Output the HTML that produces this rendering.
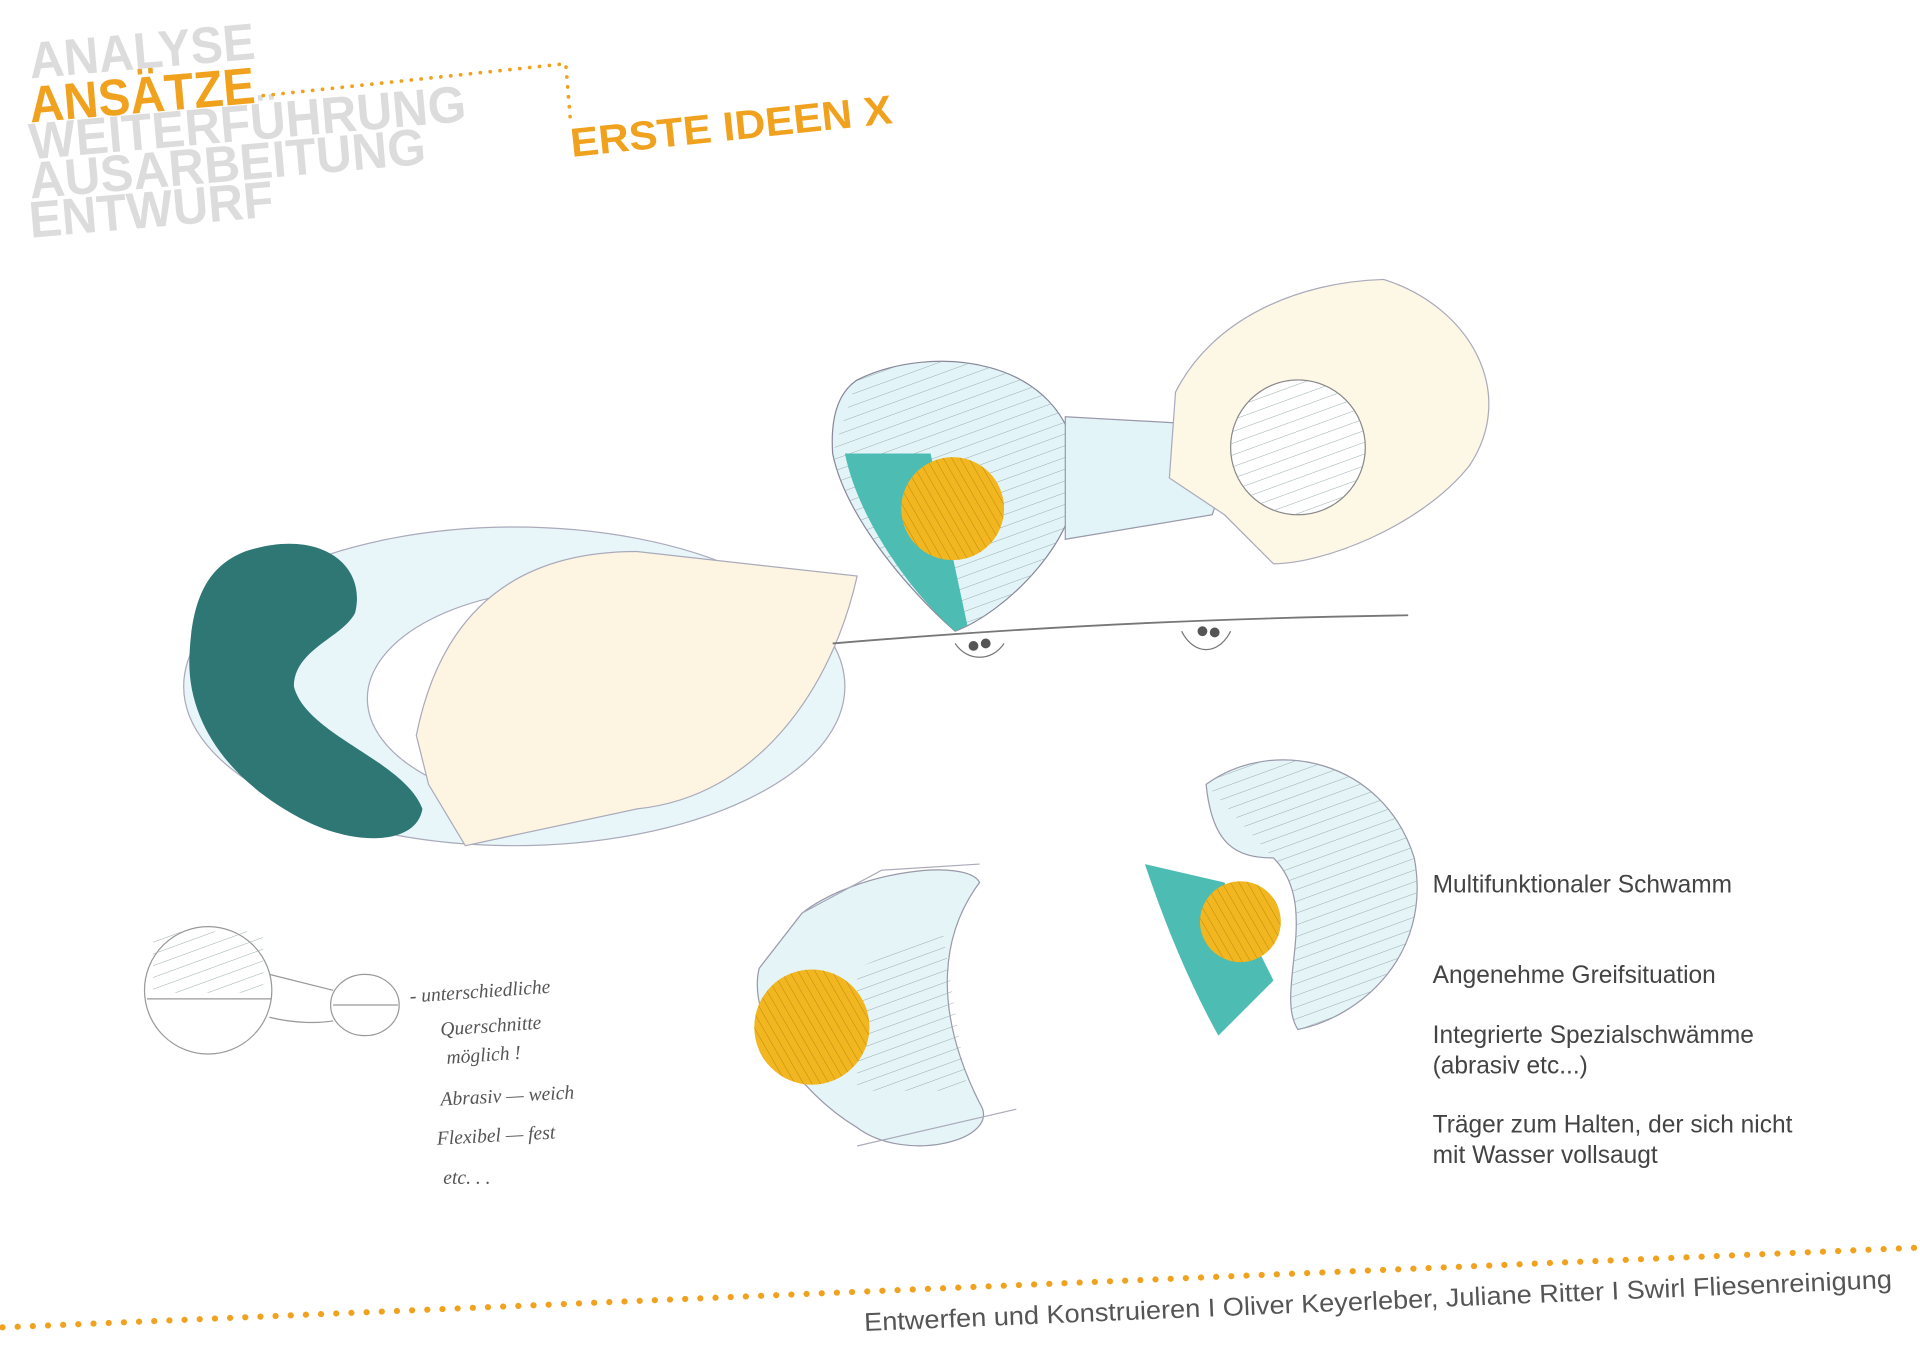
<!DOCTYPE html>
<html><head><meta charset="utf-8"><style>
html,body{margin:0;padding:0;background:#fff;}
svg{display:block;}
</style></head><body>
<svg width="1920" height="1358" viewBox="0 0 1568 1108" preserveAspectRatio="none" xmlns="http://www.w3.org/2000/svg">
<defs>
<pattern id="h" width="9" height="9" patternUnits="userSpaceOnUse" patternTransform="rotate(70)"><line x1="0" y1="0" x2="0" y2="9" stroke="#9aa" stroke-width="0.8"/></pattern>
<pattern id="hd" width="6" height="6" patternUnits="userSpaceOnUse" patternTransform="rotate(-30)"><line x1="0" y1="0" x2="0" y2="6" stroke="#b88a10" stroke-width="0.8"/></pattern>
</defs>
<!-- header -->
<g font-family="Liberation Sans, sans-serif" font-weight="bold" font-size="42" lengthAdjust="spacingAndGlyphs">
<text x="25" y="64" fill="#dcdcdc" textLength="185" lengthAdjust="spacingAndGlyphs" transform="rotate(-5 25 64)">ANALYSE</text>
<text x="25" y="194" fill="#dcdcdc" textLength="200" lengthAdjust="spacingAndGlyphs" transform="rotate(-5 25 194)">ENTWURF</text>
<text x="25" y="162" fill="#dcdcdc" textLength="325" lengthAdjust="spacingAndGlyphs" transform="rotate(-5 25 162)">AUSARBEITUNG</text>
<text x="25" y="130" fill="#dcdcdc" textLength="358" lengthAdjust="spacingAndGlyphs" transform="rotate(-5 25 130)">WEITERFÜHRUNG</text>
<text x="25" y="100" fill="#f0a21e" textLength="185" lengthAdjust="spacingAndGlyphs" transform="rotate(-5 25 100)">ANSÄTZE</text>
<text x="467" y="128" fill="#f0a21e" font-size="33" textLength="264" lengthAdjust="spacingAndGlyphs" transform="rotate(-6 467 128)">ERSTE IDEEN X</text>
</g>
<path d="M215 78 L462 52 L466 100" fill="none" stroke="#f0a21e" stroke-width="3" stroke-dasharray="0.1 8" stroke-linecap="round"/>
<!-- left sketch -->
<ellipse cx="420" cy="560" rx="270" ry="130" fill="#e8f6fa" stroke="#aab" stroke-width="1"/>
<ellipse cx="470" cy="570" rx="170" ry="90" fill="#fff" stroke="#aab"/>
<path d="M340 600 C360 500 420 450 520 450 L700 470 C680 560 620 650 520 660 L380 690 L350 640 Z" fill="#fdf5e2" stroke="#aab" stroke-width="1"/>
<path d="M200 450 C260 430 300 460 290 500 C280 520 240 530 240 560 C250 600 330 620 345 660 C340 690 290 690 250 670 C190 640 150 590 155 530 C158 480 175 460 200 450 Z" fill="#2e7775"/>
<!-- top center -->
<path d="M700 310 C760 280 870 290 880 380 C885 440 820 500 780 515 C740 480 690 420 680 370 C678 340 685 320 700 310 Z" fill="#e2f4f8" stroke="#889" />
<path d="M700 310 C760 280 870 290 880 380 C885 440 820 500 780 515 C740 480 690 420 680 370 Z" fill="url(#h)"/>
<path d="M690 370 L760 370 L790 510 L780 515 C740 480 700 420 690 370 Z" fill="#4dbdb3"/>
<circle cx="778" cy="415" r="42" fill="#f2b620"/>
<circle cx="778" cy="415" r="42" fill="url(#hd)"/>
<path d="M870 340 L960 345 L1000 390 L990 420 L870 440 Z" fill="#e2f4f8" stroke="#99a"/>
<path d="M960 320 C990 260 1060 230 1130 228 C1200 250 1240 320 1200 380 C1160 430 1080 460 1040 460 L1000 420 L955 390 Z" fill="#fdf7e6" stroke="#aab"/>
<circle cx="1060" cy="365" r="55" fill="#fff" stroke="#888"/>
<circle cx="1060" cy="365" r="55" fill="url(#h)"/>
<path d="M680 525 C800 515 950 505 1150 502" stroke="#777" fill="none" stroke-width="1.5"/>
<path d="M780 525 C790 540 810 540 820 525 M965 515 C975 535 995 535 1005 515" stroke="#777" fill="none"/>
<circle cx="795" cy="527" r="4" fill="#555"/><circle cx="805" cy="525" r="4" fill="#555"/><circle cx="982" cy="515" r="4" fill="#555"/><circle cx="992" cy="516" r="4" fill="#555"/>
<!-- bottom middle -->
<path d="M655 745 C700 710 790 700 800 720 C770 760 760 820 800 900 C820 930 740 950 700 920 C650 890 610 830 620 790 Z" fill="#e4f4f7" stroke="#99a"/>
<path d="M700 790 L770 760 L790 890 L700 890 Z" fill="url(#h)"/>
<circle cx="663" cy="838" r="47" fill="#f2b620"/>
<circle cx="663" cy="838" r="47" fill="url(#hd)"/>
<path d="M655 745 L720 710 L800 705 M700 935 L830 905" stroke="#aab" fill="none"/>
<!-- bottom right -->
<path d="M985 640 C1040 600 1130 620 1155 700 C1170 780 1110 830 1060 840 C1040 810 1080 740 1040 700 C1010 700 990 690 985 640 Z" fill="#e4f4f7" stroke="#99a"/>
<path d="M985 640 C1040 600 1130 620 1155 700 C1170 780 1110 830 1060 840 C1040 810 1080 740 1040 700 Z" fill="url(#h)"/>
<path d="M935 705 L1000 720 L1040 800 L1000 840 L995 845 C970 800 950 750 935 705 Z" fill="#4dbdb3"/>
<circle cx="1013" cy="752" r="33" fill="#f2b620"/>
<circle cx="1013" cy="752" r="33" fill="url(#hd)"/>
<!-- small left sketch -->
<g fill="none" stroke="#999" stroke-width="1">
<ellipse cx="170" cy="808" rx="52" ry="52"/><ellipse cx="298" cy="820" rx="28" ry="25"/>
<path d="M220 795 C240 800 260 805 272 808 M220 830 C240 835 260 835 272 833 M120 815 L222 815 M272 820 L325 820"/>
<rect x="125" y="760" width="90" height="50" fill="url(#h)" stroke="none"/>
</g>
<g font-family="Liberation Serif, serif" font-style="italic" font-size="16" fill="#555">
<text x="335" y="818" transform="rotate(-4 335 818)">- unterschiedliche</text>
<text x="360" y="845" transform="rotate(-4 360 845)">Querschnitte</text>
<text x="365" y="868" transform="rotate(-4 365 868)">möglich !</text>
<text x="360" y="902" transform="rotate(-3 360 902)">Abrasiv — weich</text>
<text x="357" y="934" transform="rotate(-3 357 934)">Flexibel — fest</text>
<text x="362" y="966">etc. . .</text>
</g>
<!-- right text -->
<g font-family="Liberation Sans, sans-serif" font-size="20" fill="#444">
<text x="1170" y="728">Multifunktionaler Schwamm</text>
<text x="1170" y="802">Angenehme Greifsituation</text>
<text x="1170" y="851">Integrierte Spezialschwämme</text>
<text x="1170" y="876">(abrasiv etc...)</text>
<text x="1170" y="924">Träger zum Halten, der sich nicht</text>
<text x="1170" y="949">mit Wasser vollsaugt</text>
</g>
<!-- footer -->
<path d="M2 1083 L1566 1018" stroke="#f0a21e" stroke-width="5" stroke-dasharray="0.1 12.3" stroke-linecap="round"/>
<text x="706" y="1086" font-family="Liberation Sans, sans-serif" font-size="21" fill="#555" textLength="840" lengthAdjust="spacingAndGlyphs" transform="rotate(-2.4 706 1086)">Entwerfen und Konstruieren I Oliver Keyerleber, Juliane Ritter I Swirl Fliesenreinigung</text>
</svg>
</body></html>
